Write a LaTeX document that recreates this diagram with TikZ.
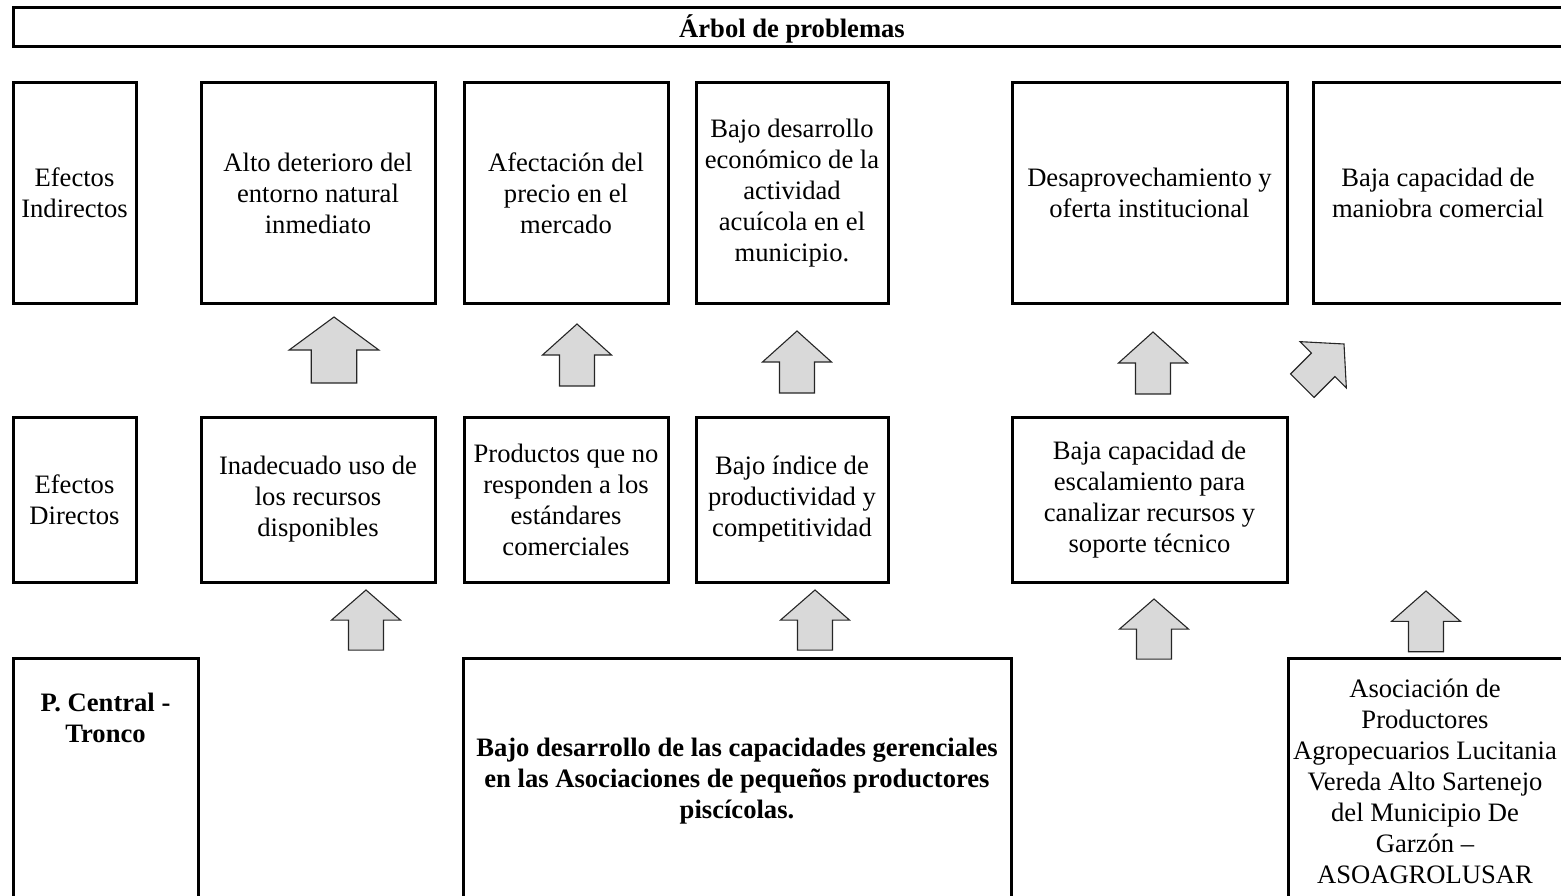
\documentclass[tikz,border=0pt]{standalone}
\usepackage{fontspec}
\setmainfont{Liberation Serif}
\newcommand{\fsz}{\fontsize{26.6}{31}\selectfont}
\tikzset{
  box/.style={draw, line width=3pt, inner sep=0pt, align=center, font=\fsz},
  boldbox/.style={box, font=\fsz\bfseries},
  frame/.style={draw, line width=3pt, line join=miter},
  txt/.style={inner sep=0pt, align=center, font=\fsz},
  arrowstyle/.style={draw=black!85, fill=black!15, line width=1.1pt, line join=miter},
  uparr/.pic={\draw[arrowstyle] (0,0) -- (34.5,31) -- (17.5,31) -- (17.5,62) -- (-17.5,62) -- (-17.5,31) -- (-34.5,31) -- cycle;}
}
\begin{document}
\begin{tikzpicture}[x=1pt,y=-1pt]
\useasboundingbox (0,0) rectangle (1561,896);
\clip (0,0) rectangle (1561,896);
% title (open at the right page edge)
\node[txt, font=\fsz\bfseries] (title) at (792,29) {Árbol de problemas};
\draw[frame] (1640,8) -- (13,8) -- (13,47) -- (1640,47);
% row 1: efectos indirectos
\node[box, minimum width=123, minimum height=220] (r1a) at (74.5,193) {Efectos\\Indirectos};
\node[box, minimum width=234, minimum height=220] (r1b) at (318,193) {Alto deterioro del\\entorno natural\\inmediato};
\node[box, minimum width=204, minimum height=220] (r1c) at (566,193) {Afectación del\\precio en el\\mercado};
\node[box, minimum width=192, minimum height=220] (r1d) at (792,193) {Bajo desarrollo\\económico de la\\actividad\\acuícola en el\\municipio.};
\node[box, minimum width=275, minimum height=220] (r1e) at (1149.5,193) {Desaprovechamiento y\\oferta institucional};
\node[txt] (r1f) at (1438,193) {Baja capacidad de\\maniobra comercial};
\draw[frame] (1640,83) -- (1313,83) -- (1313,303) -- (1640,303);
% row 2: efectos directos
\node[box, minimum width=123, minimum height=165] (r2a) at (74.5,499.5) {Efectos\\Directos};
\node[box, minimum width=234, minimum height=165] (r2b) at (318,499.5) {Inadecuado uso de\\los recursos\\disponibles};
\node[box, minimum width=204, minimum height=165] (r2c) at (566,499.5) {Productos que no\\responden a los\\estándares\\comerciales};
\node[box, minimum width=192, minimum height=165] (r2d) at (792,499.5) {Bajo índice de\\productividad y\\competitividad};
\node[box, minimum width=275, minimum height=165] (r2e) at (1149.5,499.5) {Baja capacidad de\\escalamiento para\\canalizar recursos y\\soporte técnico};
% row 3: tronco (open at the bottom page edge)
\node[txt, font=\fsz\bfseries] (r3a) at (105.5,718) {P. Central -\\Tronco};
\draw[frame] (13,960) -- (13,658) -- (198,658) -- (198,960);
\node[txt, font=\fsz\bfseries] (r3b) at (737,781.5) {Bajo desarrollo de las capacidades gerenciales\\en las Asociaciones de pequeños productores\\piscícolas.};
\draw[frame] (463,960) -- (463,658) -- (1011,658) -- (1011,960);
\node[txt] (r3c) at (1425,781.5) {Asociación de\\Productores\\Agropecuarios Lucitania\\Vereda Alto Sartenejo\\del Municipio De\\Garzón –\\ASOAGROLUSAR};
\draw[frame] (1288,960) -- (1288,658) -- (1640,658);
% arrows between row 2 and row 1
\pic[xscale=1.3, yscale=1.065] (a1) at (334,317) {uparr};
\pic (a2) at (577,324) {uparr};
\pic (a3) at (797,331) {uparr};
\pic (a4) at (1153,332) {uparr};
\pic[rotate=-45, scale=0.95] (a5) at (1344,344) {uparr};
% arrows between row 3 and row 2
\pic[yscale=0.97] (a6) at (366,590) {uparr};
\pic[yscale=0.97] (a7) at (815,590) {uparr};
\pic[yscale=0.97] (a8) at (1154,599) {uparr};
\pic[yscale=0.98] (a9) at (1426,591) {uparr};
\end{tikzpicture}
\end{document}
